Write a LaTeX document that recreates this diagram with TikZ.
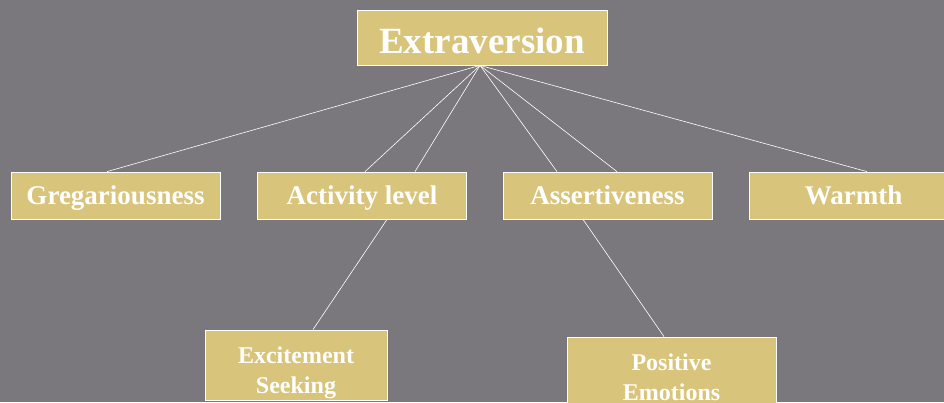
\documentclass[tikz,border=0pt]{standalone}
\usepackage{fontspec}
\setmainfont{Liberation Serif}
\definecolor{slidegray}{HTML}{7A777D}
\definecolor{tanbox}{HTML}{D8C47A}

\begin{document}
\begin{tikzpicture}[x=1pt, y=-1pt,
    box/.style={rectangle, draw=white, line width=0.8pt, fill=tanbox, text=white,
      font=\bfseries\fontsize{27}{30}\selectfont, minimum width=209pt, minimum height=47pt,
      inner sep=0pt, text height=18pt, text depth=0pt, align=center},
    subbox/.style={box, font=\bfseries\fontsize{24}{30}\selectfont, minimum height=70pt,
      text height=56pt},
    link/.style={draw=white, line width=0.6pt}]

    % background and frame
    \useasboundingbox (0,0) rectangle (944,402);
    \clip (0,0) rectangle (944,402);
    \fill[slidegray] (0,0) rectangle (944,402);

    \node[box, minimum width=250pt, minimum height=55pt, text height=31pt,
      font=\bfseries\fontsize{37}{40}\selectfont] (extra) at (482,37.5) {Extraversion};
    \node[box] (greg) at (115.5,195.5) {Gregariousness};
    \node[box] (act) at (362,195.5) {Activity level};
    \node[box] (assert) at (607.5,195.5) {Assertiveness};
    \node[box] (warm) at (853.5,195.5) {Warmth};
    \node[subbox, minimum width=182pt] (excite) at (296,365) {Excitement\\Seeking};
    \node[subbox] (posit) at (671.5,372) {Positive\\Emotions};

    \coordinate (hub) at ([xshift=-2pt]extra.south);

    \draw[link] (hub) -- ([xshift=-8.5pt]greg.north);
    \draw[link] (hub) -- ([xshift=3pt]act.north);
    \draw[link] (hub) -- ([xshift=53pt]act.north);
    \draw[link] (hub) -- ([xshift=-50.5pt]assert.north);
    \draw[link] (hub) -- ([xshift=9.5pt]assert.north);
    \draw[link] (hub) -- ([xshift=13.5pt]warm.north);
    \draw[link] ([xshift=25pt]act.south) -- ([xshift=17pt]excite.north);
    \draw[link] ([xshift=-24.5pt]assert.south) -- ([xshift=-7.5pt]posit.north);
\end{tikzpicture}
\end{document}
